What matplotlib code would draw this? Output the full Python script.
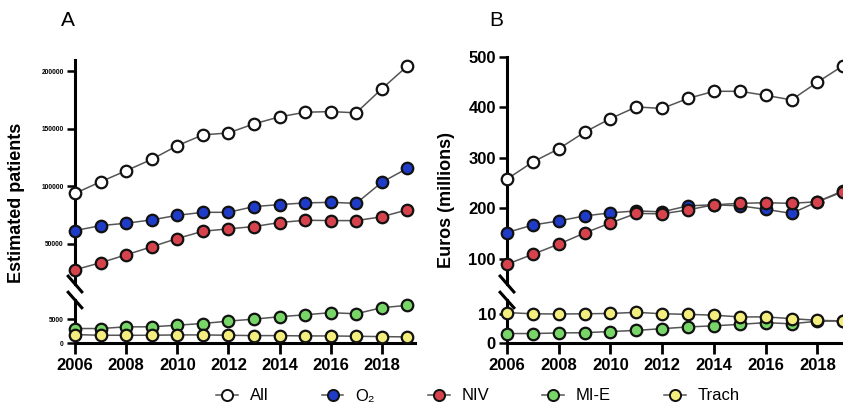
import matplotlib

matplotlib.use("Agg")

import matplotlib.pyplot as plt
from matplotlib.lines import Line2D
import numpy as np

years = np.arange(2006, 2020)

# Panel A: estimated patients
pat_all = [93900, 104000, 113600, 123500, 135400, 144800, 146500, 154400,
           160500, 164500, 165100, 164000, 184900, 204700]
pat_o2 = [61500, 65800, 67900, 70800, 74800, 77400, 77400, 82400,
          84100, 85600, 86100, 85200, 103500, 115700]
pat_niv = [27400, 33500, 40400, 47400, 54600, 60900, 63000, 65000,
           68500, 70500, 70200, 70200, 73500, 79600]
pat_mie = [3030, 3030, 3380, 3380, 3730, 4080, 4580, 5000,
           5490, 5910, 6340, 6120, 7390, 7880]
pat_trach = [1760, 1620, 1620, 1620, 1690, 1690, 1620, 1550,
             1550, 1480, 1480, 1410, 1340, 1270]

# Panel B: costs, euros (millions)
eur_all = [258, 292, 318, 351, 378, 401, 398, 418, 432, 432, 424, 415, 450, 483]
eur_o2 = [152, 167, 175, 185, 191, 195, 193, 205, 207, 205, 198, 190, 213, 235]
eur_niv = [89, 109, 129, 151, 171, 190, 189, 197, 207, 210, 211, 210, 213, 233]
eur_mie = [3.3, 3.3, 3.5, 3.6, 4.0, 4.4, 5.0, 5.6, 6.0, 6.5, 7.1, 6.7, 7.6, 7.7]
eur_trach = [10.6, 10.2, 10.1, 10.2, 10.3, 10.7, 10.2, 10.0, 9.7, 9.1, 9.1, 8.5, 7.9, 7.7]

labels = ["All", "O₂", "NIV", "MI-E", "Trach"]
faces = ["white", "#1f3cc8", "#d6434d", "#78d568", "#f4ee7e"]

plt.rcParams["font.family"] = ["Liberation Sans", "DejaVu Sans"]

W, H = 843, 408
fig = plt.figure(figsize=(W / 100, H / 100), dpi=100)
fig.patch.set_facecolor("white")


def px_axes(x0, x1, y_top, y_bot):
    return fig.add_axes([x0 / W, 1 - y_bot / H, (x1 - x0) / W, (y_bot - y_top) / H])


def style(ax, top):
    for s in ("top", "right"):
        ax.spines[s].set_visible(False)
    ax.spines["left"].set_linewidth(2.2)
    ax.spines["bottom"].set_linewidth(2.2)
    ax.tick_params(axis="y", length=6, width=1.8)
    if top:
        ax.spines["bottom"].set_visible(False)
        ax.tick_params(axis="x", bottom=False, labelbottom=False)
    else:
        ax.tick_params(axis="x", length=8, width=2, labelsize=12, pad=3)
        ax.set_xticks(np.arange(2006, 2019, 2))
        for t in ax.get_xticklabels():
            t.set_fontweight("bold")
    ax.patch.set_alpha(0)


def draw(ax, series):
    # only the series that live inside this segment of the broken axis
    lo, hi = ax.get_ylim()
    for vals, fc in zip(series, faces):
        if min(vals) < lo or max(vals) > hi:
            continue
        ax.plot(years, vals, color="#555555", linewidth=1.1, marker="o",
                markersize=8.3, markerfacecolor=fc, markeredgecolor="#111111",
                markeredgewidth=1.6, clip_on=False, zorder=3)


def breaks(ax_top, ax_bot):
    d = 0.02
    kw = dict(color="black", linewidth=2.2, clip_on=False)
    ax_top.plot([-d, d], [0.035, -0.035], transform=ax_top.transAxes, **kw)
    ax_bot.plot([-d, d], [1.18, 0.82], transform=ax_bot.transAxes, **kw)


# ---- panel A
axA = px_axes(75, 415, 60, 284)
axAb = px_axes(75, 415, 300, 343)
axA.set_ylim(15000, 210000)
axAb.set_ylim(0, 9000)
seriesA = [pat_all, pat_o2, pat_niv, pat_mie, pat_trach]
for ax, top in ((axA, True), (axAb, False)):
    style(ax, top)
    draw(ax, seriesA)
    ax.set_xlim(2006, 2019.3)
axA.set_yticks([50000, 100000, 150000, 200000])
axAb.set_yticks([0, 5000])
for ax in (axA, axAb):
    ax.tick_params(axis="y", labelsize=4.8, pad=2)
    for t in ax.get_yticklabels():
        t.set_fontweight("bold")
breaks(axA, axAb)

# ---- panel B
axB = px_axes(507, 851, 57, 284)
axBb = px_axes(507, 851, 300, 343)
axB.set_ylim(50, 500)
axBb.set_ylim(0, 15)
seriesB = [eur_all, eur_o2, eur_niv, eur_mie, eur_trach]
for ax, top in ((axB, True), (axBb, False)):
    style(ax, top)
    draw(ax, seriesB)
    ax.set_xlim(2006, 2019.3)
axB.set_yticks([100, 200, 300, 400, 500])
axBb.set_yticks([0, 10])
for ax in (axB, axBb):
    ax.tick_params(axis="y", labelsize=12, pad=2)
    for t in ax.get_yticklabels():
        t.set_fontweight("bold")
breaks(axB, axBb)

fig.text(17 / W, 1 - 203 / H, "Estimated patients", rotation=90, ha="center",
         va="center", fontsize=13, fontweight="bold")
fig.text(447 / W, 1 - 200 / H, "Euros (millions)", rotation=90, ha="center",
         va="center", fontsize=13, fontweight="bold")
fig.text(68 / W, 1 - 20 / H, "A", ha="center", va="center", fontsize=15)
fig.text(496 / W, 1 - 20 / H, "B", ha="center", va="center", fontsize=15)

handles = [Line2D([], [], color="#555555", linewidth=1.1, marker="o", markersize=8,
                  markerfacecolor=fc, markeredgecolor="#111111", markeredgewidth=1.4)
           for fc in faces]
fig.legend(handles, labels, loc="center", bbox_to_anchor=(478 / W, 1 - 396 / H),
           ncol=5, frameon=False, fontsize=12, handlelength=1.3, handletextpad=0.7,
           columnspacing=3.2)

fig.savefig("out.png", dpi=100)
